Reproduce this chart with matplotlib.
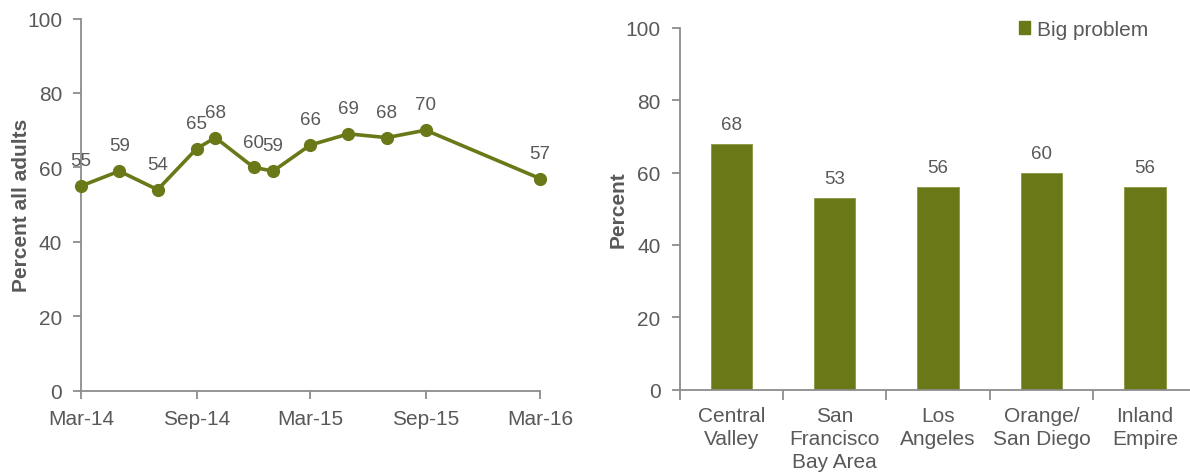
import matplotlib
matplotlib.use("Agg")
import matplotlib.pyplot as plt
import matplotlib.dates as mdates
from matplotlib.patches import Patch
import datetime as dt

# ---- data ----
survey_dates = ["2014-03-01", "2014-05-01", "2014-07-01", "2014-09-01", "2014-10-01",
                "2014-12-01", "2015-01-01", "2015-03-01", "2015-05-01", "2015-07-01",
                "2015-09-01", "2016-03-01"]
pct_all_adults = [55, 59, 54, 65, 68, 60, 59, 66, 69, 68, 70, 57]
x_tick_dates = ["2014-03-01", "2014-09-01", "2015-03-01", "2015-09-01", "2016-03-01"]

regions = ["Central\nValley", "San\nFrancisco\nBay Area", "Los\nAngeles",
           "Orange/\nSan Diego", "Inland\nEmpire"]
big_problem = [68, 53, 56, 60, 56]
y_ticks = [0, 20, 40, 60, 80, 100]

# ---- style ----
GREEN = "#6B7818"
TEXT = "#595959"
SPINE = "#8C8C8C"
plt.rcParams["font.family"] = ["Liberation Sans", "DejaVu Sans"]

fig = plt.figure(figsize=(11.9, 4.77), dpi=100)
W, H = 1190, 477

def style_axes(ax):
    for s in ["top", "right"]:
        ax.spines[s].set_visible(False)
    for s in ["left", "bottom"]:
        ax.spines[s].set_color(SPINE)
        ax.spines[s].set_linewidth(1.3)
    ax.tick_params(axis="both", colors=SPINE, labelcolor=TEXT, labelsize=15,
                   length=6, width=1.3, direction="out")
    ax.tick_params(axis="y", pad=7.5)
    ax.tick_params(axis="x", pad=7.5)

# ---- left: line chart ----
axL = fig.add_axes([81 / W, 1 - 391.7 / H, (540 - 81) / W, (391.7 - 19.5) / H])
dates = [dt.datetime.strptime(d, "%Y-%m-%d") for d in survey_dates]
axL.plot(dates, pct_all_adults, color=GREEN, linewidth=2.6, marker="o",
         markersize=8.5, clip_on=False, zorder=3)
for d, v in zip(dates, pct_all_adults):
    axL.annotate(str(v), (d, v), xytext=(0, 15), textcoords="offset points",
                 ha="center", va="baseline", fontsize=13.5, color=TEXT)
xt = [dt.datetime.strptime(d, "%Y-%m-%d") for d in x_tick_dates]
axL.set_xlim(xt[0], xt[-1])
axL.set_xticks(xt)
axL.xaxis.set_major_formatter(mdates.DateFormatter("%b-%y"))
axL.set_ylim(0, 100)
axL.set_yticks(y_ticks)
style_axes(axL)
axL.set_ylabel("Percent all adults", fontsize=15, fontweight="bold", color=TEXT)
axL.yaxis.set_label_coords(-0.108, 0.5)

# ---- right: bar chart ----
axR = fig.add_axes([679.5 / W, 1 - 390.7 / H, (1196.6 - 679.5) / W, (390.7 - 28.7) / H])
xpos = list(range(len(regions)))
axR.bar(xpos, big_problem, width=0.4, color=GREEN, edgecolor="#8A9640",
        linewidth=0.6, zorder=2)
for x, v in zip(xpos, big_problem):
    axR.annotate(str(v), (x, v), xytext=(0, 10.5), textcoords="offset points",
                 ha="center", va="baseline", fontsize=13.5, color=TEXT)
axR.set_xlim(-0.5, len(regions) - 0.5)
axR.set_ylim(0, 100)
axR.set_yticks(y_ticks)
axR.set_xticks(xpos)
axR.set_xticklabels(regions, linespacing=1.27)
axR.set_xticks([i - 0.5 for i in range(len(regions) + 1)], minor=True)
style_axes(axR)
axR.tick_params(axis="x", which="major", length=0, pad=12)
axR.tick_params(axis="x", which="minor", length=7, width=1.3, color=SPINE)
axR.set_ylabel("Percent", fontsize=15, fontweight="bold", color=TEXT)
axR.yaxis.set_label_coords(-0.0997, 0.5)

leg = fig.legend(handles=[Patch(facecolor=GREEN, edgecolor=GREEN, label="Big problem")],
                 loc="upper left", bbox_to_anchor=(1019 / W, 1 - 21 / H),
                 frameon=False, fontsize=15, handlelength=0.55, handleheight=0.55,
                 handletextpad=0.3, borderpad=0, borderaxespad=0, labelcolor=TEXT)

fig.savefig("out.png", dpi=100)
